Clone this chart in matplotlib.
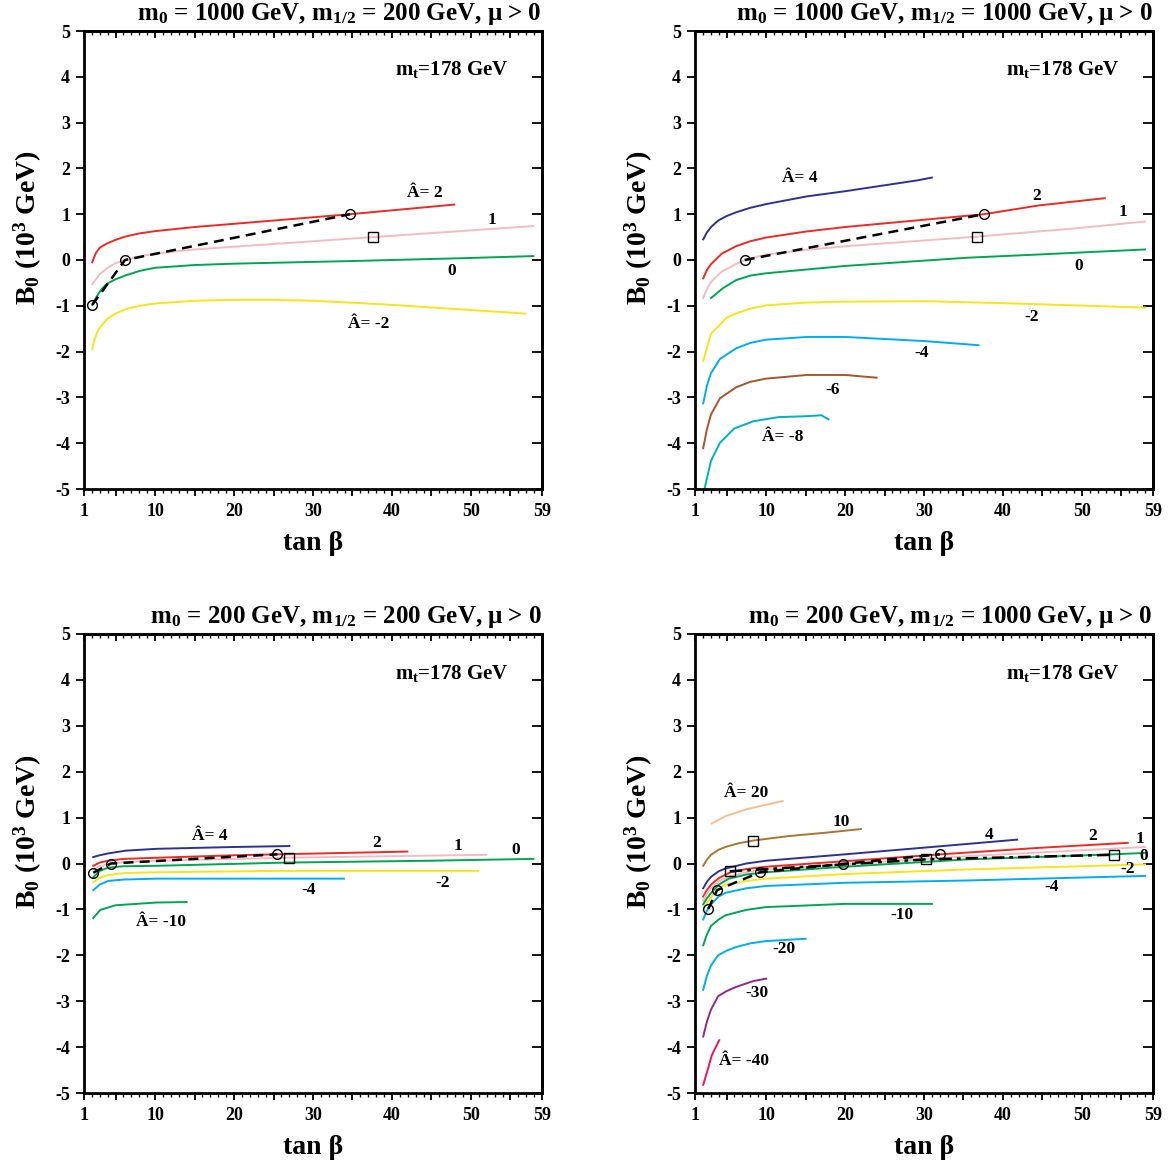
import numpy as np
import matplotlib
matplotlib.use("Agg")
import matplotlib.pyplot as plt
from matplotlib.ticker import MultipleLocator

plt.rcParams['font.family'] = ['Liberation Serif', 'DejaVu Serif']
plt.rcParams['font.weight'] = 'bold'
plt.rcParams['mathtext.fontset'] = 'custom'
plt.rcParams['mathtext.rm'] = 'Liberation Serif:bold'
plt.rcParams['mathtext.it'] = 'Liberation Serif:bold'
plt.rcParams['mathtext.bf'] = 'Liberation Serif:bold'
plt.rcParams['axes.unicode_minus'] = False

# colours of the A-hat curves
c_red = '#ee2a24'
c_pink = '#f3bcc4'
c_green = '#00a651'
c_yellow = '#f7e41a'
c_cyan = '#00aeef'
c_navy = '#2e3192'
c_brown = '#a9552b'
c_teal = '#00b2bf'
c_peach = '#f7bd8e'
c_ochre = '#a8782f'
c_purple = '#92278f'
c_magenta = '#ec1561'

# ---- panel 1: m0=1000, m1/2=200 ----
p1_a2_x = [2.04, 2.5, 3.0, 3.9, 5.0, 6.2, 8, 10, 15, 20, 34.7, 47.9]
p1_a2_y = [-0.05, 0.15, 0.27, 0.36, 0.44, 0.51, 0.58, 0.63, 0.72, 0.79, 1.0, 1.21]
p1_a1_x = [2.04, 2.5, 3.0, 4.0, 5.0, 6.2, 8, 10, 15, 20, 37.6, 57.9]
p1_a1_y = [-0.53, -0.42, -0.31, -0.17, -0.07, 0.0, 0.08, 0.14, 0.23, 0.29, 0.50, 0.74]
p1_a0_x = [2.04, 2.6, 3.2, 3.9, 5.0, 6.2, 8, 10, 15, 20, 35.6, 49, 57.9]
p1_a0_y = [-0.98, -0.80, -0.64, -0.52, -0.42, -0.34, -0.24, -0.17, -0.11, -0.08, -0.02, 0.04, 0.085]
p1_am2_x = [2.04, 2.4, 2.8, 3.9, 5.0, 6.2, 8, 10, 15, 20, 25, 30, 39.1, 48, 56.9]
p1_am2_y = [-1.94, -1.70, -1.52, -1.29, -1.17, -1.08, -1.0, -0.95, -0.89, -0.87, -0.87, -0.89, -0.97, -1.07, -1.17]
p1_circ_x = [2.04, 6.2, 34.7]
p1_circ_y = [-0.98, 0.0, 1.0]
p1_sq_x = [37.6]
p1_sq_y = [0.5]

# ---- panel 2: m0=1000, m1/2=1000 ----
p2_a4_x = [2.04, 2.5, 3.03, 3.93, 5.0, 6.19, 8, 10, 15.2, 19.95, 29.2, 31]
p2_a4_y = [0.45, 0.60, 0.72, 0.86, 0.96, 1.04, 1.14, 1.22, 1.39, 1.50, 1.74, 1.80]
p2_a2_x = [2.04, 2.5, 3.03, 4.4, 6.2, 8, 10, 15, 20, 37.6, 44.5, 52.9]
p2_a2_y = [-0.40, -0.22, -0.09, 0.14, 0.30, 0.41, 0.49, 0.62, 0.72, 1.0, 1.19, 1.35]
p2_a1_x = [2.04, 2.5, 3.03, 4.4, 6.2, 7.3, 10, 15, 20, 36.7, 49.1, 58]
p2_a1_y = [-0.83, -0.64, -0.48, -0.25, -0.09, 0.0, 0.12, 0.22, 0.30, 0.51, 0.69, 0.84]
p2_a0_x = [3.03, 4.5, 6.2, 8, 10, 20, 35.5, 44.5, 58]
p2_a0_y = [-0.83, -0.62, -0.44, -0.34, -0.29, -0.13, 0.05, 0.12, 0.23]
p2_am2_x = [2.04, 3.03, 5.06, 6.2, 8, 10, 15, 20, 30, 39.6, 49, 58]
p2_am2_y = [-2.2, -1.61, -1.25, -1.17, -1.06, -0.99, -0.93, -0.91, -0.90, -0.94, -0.99, -1.04]
p2_am4_x = [2.04, 2.5, 3.03, 4.16, 6.2, 8, 10, 15.2, 20, 30, 36.9]
p2_am4_y = [-3.13, -2.75, -2.47, -2.16, -1.93, -1.81, -1.74, -1.68, -1.68, -1.77, -1.86]
p2_am6_x = [2.04, 2.5, 3.03, 4.16, 6.2, 8, 10, 15.2, 20, 24]
p2_am6_y = [-4.11, -3.70, -3.37, -3.02, -2.78, -2.66, -2.59, -2.51, -2.51, -2.57]
p2_am8_x = [2.2, 3.03, 4.16, 5.96, 8.4, 11.6, 15.2, 17, 17.9]
p2_am8_y = [-5.0, -4.38, -3.99, -3.68, -3.52, -3.43, -3.41, -3.39, -3.48]
p2_circ_x = [7.3, 37.6]
p2_circ_y = [0.0, 1.0]
p2_sq_x = [36.7]
p2_sq_y = [0.51]

# ---- panel 3: m0=200, m1/2=200 ----
p3_a4_x = [2.17, 3.0, 4.07, 6.3, 10.2, 20.1, 27]
p3_a4_y = [0.14, 0.18, 0.22, 0.28, 0.32, 0.36, 0.38]
p3_a2_x = [2.17, 3.0, 4.07, 6.0, 10.2, 20.1, 31.1, 41.95]
p3_a2_y = [-0.05, 0.02, 0.06, 0.10, 0.125, 0.18, 0.22, 0.26]
p3_a1_x = [2.17, 3.0, 4.07, 6.0, 10.2, 26.6, 51.9]
p3_a1_y = [-0.125, -0.06, -0.02, 0.03, 0.06, 0.125, 0.19]
p3_a0_x = [2.17, 3.0, 4.07, 6.0, 10.2, 26.6, 44.7, 57.9]
p3_a0_y = [-0.30, -0.16, -0.09, -0.06, -0.05, 0.02, 0.06, 0.10]
p3_am2_x = [2.17, 3.0, 4.07, 6.0, 10.2, 26.6, 50.9]
p3_am2_y = [-0.41, -0.31, -0.25, -0.21, -0.19, -0.16, -0.16]
p3_am4_x = [2.17, 3.0, 4.07, 6.0, 10.2, 22.1, 33.9]
p3_am4_y = [-0.58, -0.46, -0.38, -0.35, -0.33, -0.33, -0.33]
p3_am10_x = [2.17, 3.07, 5.0, 10.2, 14]
p3_am10_y = [-1.19, -1.01, -0.91, -0.85, -0.84]
p3_circ_x = [2.17, 4.4, 25.5]
p3_circ_y = [-0.2, 0.0, 0.2]
p3_sq_x = [27]
p3_sq_y = [0.11]

# ---- panel 4: m0=200, m1/2=1000 ----
p4_a20_x = [3.12, 4.84, 7.5, 10, 12.1]
p4_a20_y = [0.87, 1.03, 1.18, 1.28, 1.36]
p4_a10_x = [2.04, 2.5, 3.03, 4.0, 4.84, 6.5, 8.36, 13, 17.5, 22]
p4_a10_y = [-0.05, 0.08, 0.19, 0.30, 0.36, 0.44, 0.50, 0.60, 0.67, 0.75]
p4_a4_x = [2.04, 2.5, 3.03, 4.0, 4.84, 7.5, 10, 20, 31, 41.8]
p4_a4_y = [-0.54, -0.40, -0.29, -0.17, -0.11, 0.0, 0.06, 0.20, 0.36, 0.52]
p4_a2_x = [2.04, 2.5, 3.03, 4.0, 5.5, 7.5, 10, 20, 32.1, 44.5, 55.8]
p4_a2_y = [-0.72, -0.58, -0.46, -0.32, -0.19, -0.12, -0.07, 0.05, 0.20, 0.34, 0.45]
p4_a1_x = [2.04, 2.5, 3.03, 4.0, 5.5, 7.5, 10, 20, 35.5, 58]
p4_a1_y = [-0.81, -0.66, -0.54, -0.39, -0.27, -0.19, -0.13, -0.02, 0.16, 0.36]
p4_a0_x = [2.04, 2.5, 3.03, 4.0, 5.3, 7.5, 10, 20, 35.5, 54, 58]
p4_a0_y = [-0.89, -0.76, -0.64, -0.46, -0.33, -0.24, -0.19, -0.07, 0.09, 0.20, 0.23]
p4_am2_x = [2.04, 2.5, 3.03, 4.0, 4.84, 7.5, 10, 20, 35.5, 58]
p4_am2_y = [-1.01, -0.86, -0.74, -0.56, -0.46, -0.38, -0.33, -0.23, -0.13, -0.02]
p4_am4_x = [2.04, 2.5, 3.03, 4.0, 4.84, 7.5, 10, 20, 35.5, 58]
p4_am4_y = [-1.22, -1.03, -0.89, -0.72, -0.64, -0.54, -0.49, -0.42, -0.37, -0.27]
p4_am10_x = [2.04, 2.5, 3.03, 4.0, 4.84, 7.5, 10, 20, 31]
p4_am10_y = [-1.78, -1.55, -1.36, -1.22, -1.13, -1.01, -0.95, -0.88, -0.88]
p4_am20_x = [2.04, 2.5, 3.03, 3.93, 5.0, 6.2, 8, 10, 15]
p4_am20_y = [-2.75, -2.45, -2.22, -2.0, -1.90, -1.82, -1.74, -1.69, -1.64]
p4_am30_x = [2.04, 2.5, 3.03, 3.93, 5.0, 6.2, 8.4, 10]
p4_am30_y = [-3.77, -3.45, -3.18, -2.89, -2.78, -2.69, -2.56, -2.51]
p4_am40_x = [2.04, 2.6, 3.12, 4.07]
p4_am40_y = [-4.82, -4.50, -4.18, -3.85]
p4_circ_x = [2.67, 3.8, 9.26, 19.7, 32]
p4_circ_y = [-0.99, -0.58, -0.19, -0.01, 0.2]
p4_sq_x = [5.4, 30.3, 54]
p4_sq_y = [-0.17, 0.09, 0.19]
p4_sq10_x = [8.36]
p4_sq10_y = [0.5]

titles = [
    r'm$_0$ = 1000 GeV, m$_{1/2}$ = 200 GeV, μ > 0',
    r'm$_0$ = 1000 GeV, m$_{1/2}$ = 1000 GeV, μ > 0',
    r'm$_0$ = 200 GeV, m$_{1/2}$ = 200 GeV, μ > 0',
    r'm$_0$ = 200 GeV, m$_{1/2}$ = 1000 GeV, μ > 0',
]

panels = [
    dict(curves=[(p1_a2_x, p1_a2_y, c_red), (p1_a1_x, p1_a1_y, c_pink),
                 (p1_a0_x, p1_a0_y, c_green), (p1_am2_x, p1_am2_y, c_yellow)],
         labels=[('Â= 2', 44.2, 1.47), ('1', 52.7, 0.87), ('0', 47.6, -0.23),
                 ('Â= -2', 37.0, -1.39)]),
    dict(curves=[(p2_a4_x, p2_a4_y, c_navy), (p2_a2_x, p2_a2_y, c_red),
                 (p2_a1_x, p2_a1_y, c_pink), (p2_a0_x, p2_a0_y, c_green),
                 (p2_am2_x, p2_am2_y, c_yellow), (p2_am4_x, p2_am4_y, c_cyan),
                 (p2_am6_x, p2_am6_y, c_brown), (p2_am8_x, p2_am8_y, c_teal)],
         labels=[('Â= 4', 14.3, 1.78), ('2', 44.3, 1.4), ('1', 55.2, 1.04),
                 ('0', 49.6, -0.13), ('-2', 43.6, -1.24), ('-4', 29.7, -2.04),
                 ('-6', 18.4, -2.84), ('Â= -8', 12.1, -3.87)]),
    dict(curves=[(p3_a4_x, p3_a4_y, c_navy), (p3_a2_x, p3_a2_y, c_red),
                 (p3_a1_x, p3_a1_y, c_pink), (p3_a0_x, p3_a0_y, c_green),
                 (p3_am2_x, p3_am2_y, c_yellow), (p3_am4_x, p3_am4_y, c_cyan),
                 (p3_am10_x, p3_am10_y, c_green)],
         labels=[('Â= 4', 16.9, 0.59), ('2', 38.1, 0.45), ('1', 48.3, 0.38),
                 ('0', 55.7, 0.30), ('-2', 46.4, -0.42), ('-4', 29.4, -0.58),
                 ('Â= -10', 10.8, -1.28)]),
    dict(curves=[(p4_a20_x, p4_a20_y, c_peach), (p4_a10_x, p4_a10_y, c_ochre),
                 (p4_a4_x, p4_a4_y, c_navy), (p4_a2_x, p4_a2_y, c_red),
                 (p4_a1_x, p4_a1_y, c_pink), (p4_a0_x, p4_a0_y, c_green),
                 (p4_am2_x, p4_am2_y, c_yellow), (p4_am4_x, p4_am4_y, c_cyan),
                 (p4_am10_x, p4_am10_y, c_green), (p4_am20_x, p4_am20_y, c_cyan),
                 (p4_am30_x, p4_am30_y, c_purple), (p4_am40_x, p4_am40_y, c_magenta)],
         labels=[('Â= 20', 7.45, 1.53), ('10', 19.5, 0.91), ('4', 38.3, 0.63),
                 ('2', 51.3, 0.59), ('1', 57.3, 0.53), ('0', 57.8, 0.16),
                 ('-2', 55.8, -0.11), ('-4', 46.1, -0.52), ('-10', 27.2, -1.13),
                 ('-20', 12.2, -1.87), ('-30', 8.9, -2.83), ('Â= -40', 7.2, -4.3)]),
]

circles = [(p1_circ_x, p1_circ_y), (p2_circ_x, p2_circ_y),
           (p3_circ_x, p3_circ_y), (p4_circ_x, p4_circ_y)]
squares = [(p1_sq_x, p1_sq_y), (p2_sq_x, p2_sq_y),
           (p3_sq_x, p3_sq_y), (p4_sq_x, p4_sq_y)]

W, H = 1170, 1163
rects = [
    [84 / W, (H - 489) / H, 458 / W, 458 / H],
    [695 / W, (H - 489) / H, 458 / W, 458 / H],
    [84 / W, (H - 1093) / H, 458 / W, 459 / H],
    [695 / W, (H - 1093) / H, 458 / W, 459 / H],
]

xmajor = [1, 5, 10, 15, 20, 25, 30, 35, 40, 45, 50, 55, 59]
xlabels = ['1', '', '10', '', '20', '', '30', '', '40', '', '50', '', '59']
yticks = [5, 4, 3, 2, 1, 0, -1, -2, -3, -4, -5]

fig = plt.figure(figsize=(11.7, 11.63), dpi=100)

for i in range(4):
    ax = fig.add_axes(rects[i])
    p = panels[i]
    for xs, ys, col in p['curves']:
        ax.plot(xs, ys, color=col, lw=1.4, zorder=2)
    for txt, tx, ty in p['labels']:
        ax.text(tx, ty, txt, fontsize=12.5, fontweight='bold', ha='center', va='center')

    cx, cy = circles[i]
    ax.plot(cx, cy, color='black', lw=1.8, ls=(0, (4, 2.5)), marker='o', ms=7,
            mfc='none', mec='black', mew=1.0, zorder=4)
    sx, sy = squares[i]
    if i == 3:
        ax.plot(sx, sy, color='black', lw=1.8, ls=(0, (5, 2, 1.5, 2)), marker='s', ms=7,
                mfc='none', mec='black', mew=1.0, zorder=4)
        ax.plot(p4_sq10_x, p4_sq10_y, ls='none', marker='s', ms=7, mfc='none',
                mec='black', mew=1.0, zorder=4)
    else:
        ax.plot(sx, sy, ls='none', marker='s', ms=7, mfc='none', mec='black',
                mew=1.0, zorder=4)

    ax.text(47.6, 4.15, r'm$_t$=178 GeV', fontsize=15, fontweight='bold',
            ha='center', va='center')

    ax.set_xlim(1, 59)
    ax.set_ylim(-5, 5)
    ax.set_xticks(xmajor)
    ax.set_xticklabels(xlabels)
    ax.xaxis.set_minor_locator(MultipleLocator(1))
    ax.set_yticks(yticks)
    ax.set_yticklabels([str(v) for v in yticks])
    ax.tick_params(axis='x', which='major', direction='out', length=5, width=1.3,
                   labelsize=13, pad=5)
    ax.tick_params(axis='x', which='minor', direction='out', length=3, width=1.0)
    ax.tick_params(axis='y', which='major', direction='out', length=6, width=1.3,
                   labelsize=13, pad=4)
    for sp in ax.spines.values():
        sp.set_linewidth(2.0)

    top = ax.secondary_xaxis('top')
    top.set_xticks(xmajor)
    top.xaxis.set_minor_locator(MultipleLocator(1))
    top.tick_params(axis='x', which='major', direction='in', length=5, width=1.3,
                    labeltop=False)
    top.tick_params(axis='x', which='minor', direction='in', length=3, width=1.0)
    top.spines['top'].set_linewidth(2.0)
    right = ax.secondary_yaxis('right')
    right.set_yticks(yticks)
    right.tick_params(axis='y', direction='in', length=7, width=1.3, labelright=False)
    right.spines['right'].set_linewidth(2.0)

    ax.set_xlabel('tan β', fontsize=20, fontweight='bold', labelpad=8)
    ax.set_ylabel(r'B$_0$ (10$^3$ GeV)', fontsize=20, fontweight='bold', labelpad=8)
    ax.yaxis.label.set_y(0.57)
    ax.set_title(titles[i], loc='right', fontsize=18, fontweight='bold', pad=8)

fig.savefig('out.png', dpi=100)
